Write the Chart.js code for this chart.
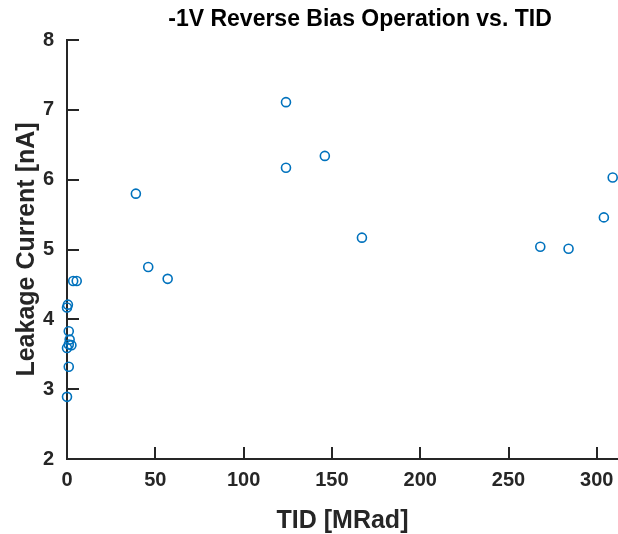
<!DOCTYPE html>
<html>
<head>
<meta charset="utf-8">
<script src="https://cdn.jsdelivr.net/npm/chart.js@4/dist/chart.umd.min.js"></script>
<style>
  html, body { margin: 0; padding: 0; background: #fff; }
  #wrap { width: 618px; height: 534px; }
</style>
</head>
<body>
<div id="wrap"><canvas id="chart" width="618" height="534"></canvas></div>
<script>
// TID dose [MRad] and leakage current [nA]
const tidValues = [0.5, 0, 1, 1.5, 1, 2.5, 0, 1, 0, 3.5, 5.5, 39, 46, 57, 124, 124, 146, 167, 268, 284, 304, 309];
const leakageValues = [4.21, 4.17, 3.83, 3.71, 3.64, 3.63, 3.59, 3.32, 2.89, 4.55, 4.55, 5.80, 4.75, 4.58, 7.11, 6.17, 6.34, 5.17, 5.04, 5.01, 5.46, 6.03];
const yTicks = [2, 3, 4, 5, 6, 7, 8];
const xTicks = [0, 50, 100, 150, 200, 250, 300];

const AXIS = '#262626';
const BLUE = '#0072BD';
const FONT = 'Liberation Sans, Arial, sans-serif';

const points = tidValues.map((x, i) => ({ x: x, y: leakageValues[i] }));

// MATLAB style: ticks pointing into the plot, no box
const inwardTicks = {
  id: 'inwardTicks',
  afterLayout(chart){
    // title is centred over the full axes, which run past the cropped right edge
    if (chart.titleBlock) chart.titleBlock.left = 102;
  },
  beforeDatasetsDraw(chart){
    const ctx = chart.ctx;
    const xs = chart.scales.x, ys = chart.scales.y;
    const a = chart.chartArea;
    ctx.save();
    ctx.strokeStyle = AXIS;
    ctx.lineWidth = 2;
    ctx.beginPath();
    xTicks.forEach(v => {
      const px = Math.round(xs.getPixelForValue(v));
      ctx.moveTo(px, a.bottom);
      ctx.lineTo(px, a.bottom - 12);
    });
    yTicks.forEach(v => {
      const py = Math.round(ys.getPixelForValue(v));
      ctx.moveTo(a.left, py);
      ctx.lineTo(a.left + 12, py);
    });
    ctx.stroke();
    ctx.restore();
  }
};

new Chart(document.getElementById('chart'), {
  type: 'scatter',
  data: {
    datasets: [{
      label: 'Leakage',
      data: points,
      showLine: false,
      clip: false,
      pointStyle: 'circle',
      pointRadius: 4.5,
      pointHoverRadius: 4.5,
      pointBorderWidth: 1.6,
      borderColor: BLUE,
      backgroundColor: 'rgba(0,0,0,0)'
    }]
  },
  options: {
    responsive: false,
    animation: false,
    layout: { padding: 0, autoPadding: false },
    plugins: {
      legend: { display: false },
      tooltip: { enabled: false },
      title: {
        display: true,
        text: '-1V Reverse Bias Operation vs. TID',
        color: '#000',
        font: { family: FONT, size: 23, weight: 'bold' },
        padding: { top: 6, bottom: 6.4 }
      }
    },
    scales: {
      x: {
        type: 'linear',
        min: 0,
        max: 312,
        afterFit: s => { s.height = 75; s.paddingLeft = 0; s.paddingRight = 0; },
        afterBuildTicks: s => { s.ticks = xTicks.map(v => ({ value: v })); },
        grid: { display: false, drawTicks: false },
        border: { display: true, color: AXIS, width: 2 },
        ticks: {
          padding: 9,
          color: AXIS,
          font: { family: FONT, size: 20, weight: 'bold' },
          maxRotation: 0
        },
        title: {
          display: true,
          text: 'TID [MRad]',
          color: AXIS,
          font: { family: FONT, size: 25, weight: 'bold' },
          padding: { top: 0, bottom: -2 }
        }
      },
      y: {
        type: 'linear',
        min: 2,
        max: 8,
        afterFit: s => { s.width = 67; },
        afterBuildTicks: s => { s.ticks = yTicks.map(v => ({ value: v })); },
        grid: { display: false, drawTicks: false },
        border: { display: true, color: AXIS, width: 2 },
        ticks: {
          padding: 13,
          color: AXIS,
          font: { family: FONT, size: 20, weight: 'bold' }
        },
        title: {
          display: true,
          text: 'Leakage Current [nA]',
          color: AXIS,
          font: { family: FONT, size: 25, weight: 'bold' },
          padding: { top: 12, bottom: 0 }
        }
      }
    }
  },
  plugins: [inwardTicks]
});
</script>
</body>
</html>
